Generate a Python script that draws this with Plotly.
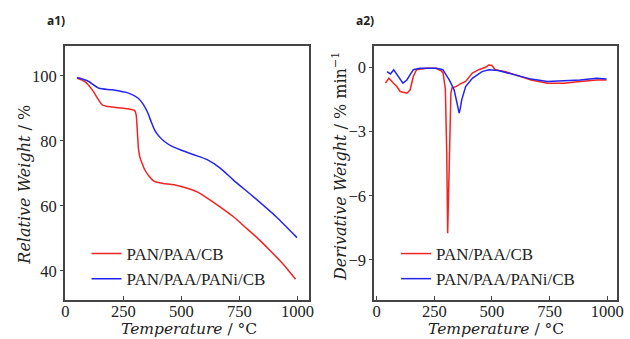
import plotly.graph_objects as go

# ---- TGA (a1) ----
tga_red_T = [50, 84, 116, 159, 201, 250, 299, 305, 310, 315, 321, 330, 342, 360, 384, 420, 468, 526, 570, 611, 660, 723, 780, 836, 885, 934, 992]
tga_red_W = [99.3, 98.2, 95.7, 91.1, 90.4, 90.0, 89.3, 88.0, 83.0, 77.5, 75.0, 73.2, 71.1, 69.2, 67.5, 66.9, 66.5, 65.4, 64.2, 62.4, 60.0, 56.7, 53.1, 49.5, 46.0, 42.4, 37.4]

tga_blue_T = [50, 95, 145, 201, 272, 314, 335, 356, 370, 384, 405, 427, 460, 497, 554, 611, 667, 723, 808, 907, 998]
tga_blue_W = [99.5, 98.5, 96.2, 95.7, 94.7, 93.1, 91.3, 88.5, 85.8, 83.4, 81.3, 79.8, 78.3, 77.2, 75.7, 74.2, 71.6, 68.0, 62.9, 56.7, 50.2]

# ---- DTG (a2) ----
dtg_red_T = [38, 53, 70, 88, 102, 115, 131, 145, 159, 173, 216, 258, 280, 288, 298, 304, 308, 314, 318, 322, 327, 344, 365, 386, 415, 443, 470, 486, 500, 514, 560, 599, 670, 741, 812, 883, 954, 997]
dtg_red_D = [-0.73, -0.5, -0.7, -0.9, -1.12, -1.15, -1.2, -1.05, -0.42, -0.1, -0.03, -0.03, -0.15, -0.25, -1.0, -4.0, -7.75, -5.0, -2.5, -1.2, -0.95, -0.89, -0.75, -0.65, -0.26, -0.1, 0.0, 0.12, 0.1, -0.1, -0.2, -0.34, -0.58, -0.73, -0.73, -0.65, -0.58, -0.58]

dtg_blue_T = [45, 60, 74, 95, 114, 131, 145, 159, 187, 258, 287, 300, 315, 336, 351, 358, 363, 369, 386, 415, 457, 486, 528, 599, 670, 741, 812, 883, 954, 997]
dtg_blue_D = [-0.19, -0.3, -0.1, -0.42, -0.73, -0.58, -0.35, -0.1, -0.03, -0.03, -0.1, -0.3, -0.58, -1.04, -1.82, -2.13, -1.9, -1.51, -0.89, -0.5, -0.19, -0.1, -0.14, -0.34, -0.54, -0.65, -0.61, -0.58, -0.5, -0.54]

series_names = ["PAN/PAA/CB", "PAN/PAA/PANi/CB"]
x_ticks = [0, 250, 500, 750, 1000]
y1_ticks = [40, 60, 80, 100]
y2_ticks = [-9, -6, -3, 0]

RED = "#f02424"
BLUE = "#2424f0"
SERIF = "Liberation Serif"
TITLE_FONT = "DejaVu Serif"

fig = go.Figure()
fig.add_trace(go.Scatter(x=tga_red_T, y=tga_red_W, mode="lines", name=series_names[0],
                         line=dict(color=RED, width=1.5, shape="spline", smoothing=0.6),
                         xaxis="x", yaxis="y", legend="legend"))
fig.add_trace(go.Scatter(x=tga_blue_T, y=tga_blue_W, mode="lines", name=series_names[1],
                         line=dict(color=BLUE, width=1.5, shape="spline", smoothing=0.6),
                         xaxis="x", yaxis="y", legend="legend"))
fig.add_trace(go.Scatter(x=dtg_red_T, y=dtg_red_D, mode="lines", name=series_names[0],
                         line=dict(color=RED, width=1.5),
                         xaxis="x2", yaxis="y2", legend="legend2"))
fig.add_trace(go.Scatter(x=dtg_blue_T, y=dtg_blue_D, mode="lines", name=series_names[1],
                         line=dict(color=BLUE, width=1.5),
                         xaxis="x2", yaxis="y2", legend="legend2"))

tick_font = dict(family=SERIF, size=16.5, color="#222")
axis_common = dict(showline=True, mirror=True, linecolor="#444", linewidth=1.5,
                   tickcolor="#444", showgrid=False, zeroline=False, tickfont=tick_font)
x_common = dict(ticks="inside", ticklen=4, ticklabelstandoff=-5, **axis_common)
y_common = dict(ticks="outside", ticklen=3, **axis_common)

ydom = [1 - 300 / 339, 1 - 46 / 339]
title_font = dict(family=TITLE_FONT, size=16, color="#222")
xtitle_font = dict(family=TITLE_FONT, size=15.5, color="#222")


def ann(text, x, y, angle=0, font=title_font):
    return dict(text=text, x=x / 630, y=1 - y / 339, xref="paper", yref="paper",
                xanchor="center", yanchor="middle", showarrow=False, textangle=angle,
                borderpad=0, font=font)


panel_font = dict(family="Open Sans", size=12, color="#222")

fig.update_layout(
    width=630, height=339,
    margin=dict(l=0, r=0, t=0, b=0),
    paper_bgcolor="white", plot_bgcolor="white",
    xaxis=dict(domain=[62 / 630, 310 / 630], range=[-2, 1048], tickvals=x_ticks, anchor="y", **x_common),
    yaxis=dict(domain=ydom, range=[31, 109.2], tickvals=y1_ticks, anchor="x", **y_common),
    xaxis2=dict(domain=[376.7 / 630, 624 / 630], range=[-11, 1043], tickvals=x_ticks, anchor="y2", **x_common),
    yaxis2=dict(domain=ydom, range=[-10.88, 1.01], tickvals=y2_ticks, anchor="x2", **y_common),
    legend=dict(x=84 / 630, y=1 - 236 / 339, xanchor="left", yanchor="top", bgcolor="rgba(0,0,0,0)",
                font=dict(family=SERIF, size=17, color="#222"), tracegroupgap=0, itemwidth=30),
    legend2=dict(x=399 / 630, y=1 - 236 / 339, xanchor="left", yanchor="top", bgcolor="rgba(0,0,0,0)",
                 font=dict(family=SERIF, size=17, color="#222"), tracegroupgap=0, itemwidth=30),
    annotations=[
        ann("<i>Temperature</i> / °C", 188, 329, font=xtitle_font),
        ann("<i>Temperature</i> / °C", 501, 329, font=xtitle_font),
        ann("<i>Relative Weight</i> / %", 20, 185, -90),
        ann("<i>Derivative Weight</i> / % min<sup>−1</sup>", 342, 167, -90),
        dict(text="<b>a1)</b>", x=42 / 630, y=1 - 21 / 339, xref="paper", yref="paper",
             xanchor="left", yanchor="middle", showarrow=False, font=panel_font),
        dict(text="<b>a2)</b>", x=356 / 630, y=1 - 21 / 339, xref="paper", yref="paper",
             xanchor="left", yanchor="middle", showarrow=False, font=panel_font),
    ],
)

fig.write_html("out.html", config={"displayModeBar": False},
               post_script="document.body.style.margin='0';document.body.style.padding='0';")
